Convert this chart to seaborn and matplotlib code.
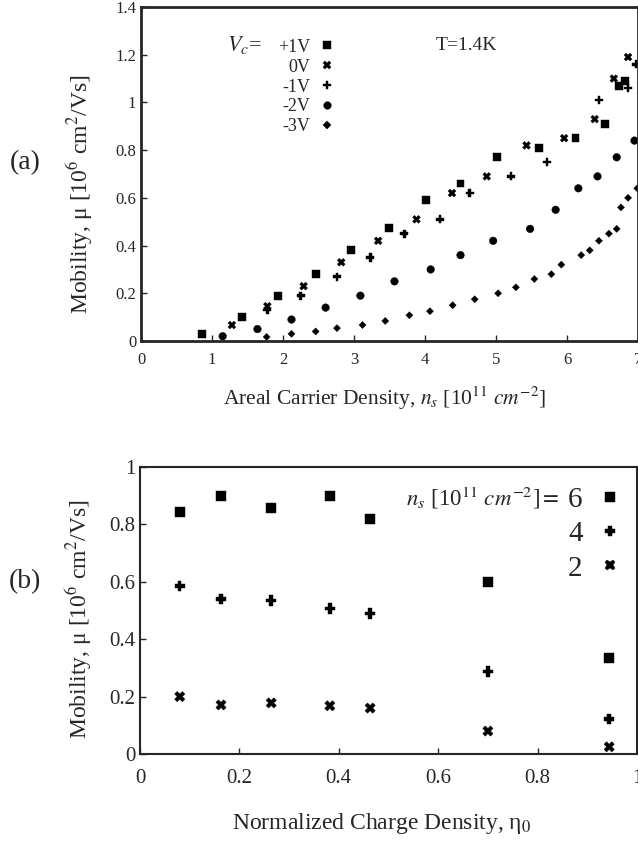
import numpy as np
import pandas as pd
import matplotlib
matplotlib.use("Agg")
import matplotlib.pyplot as plt
import seaborn as sns

# panel (a): mobility vs areal carrier density, T=1.4K
vc_labels = ['+1V', '0V', '-1V', '-2V', '-3V']
ns_p1 = [0.86, 1.42, 1.93, 2.46, 2.96, 3.49, 4.01, 4.50, 5.01, 5.61, 6.12, 6.54, 6.73, 6.82]
mu_p1 = [0.03, 0.10, 0.19, 0.28, 0.38, 0.475, 0.59, 0.66, 0.77, 0.81, 0.85, 0.91, 1.07, 1.09]
ns_0 = [1.28, 1.78, 2.29, 2.82, 3.34, 3.88, 4.38, 4.87, 5.43, 5.96, 6.39, 6.66, 6.86]
mu_0 = [0.067, 0.146, 0.23, 0.33, 0.42, 0.51, 0.62, 0.69, 0.82, 0.85, 0.93, 1.10, 1.19]
ns_m1 = [1.78, 2.25, 2.76, 3.23, 3.71, 4.21, 4.63, 5.21, 5.72, 6.45, 6.86, 6.97]
mu_m1 = [0.13, 0.19, 0.27, 0.35, 0.45, 0.51, 0.62, 0.69, 0.75, 1.01, 1.06, 1.16]
ns_m2 = [1.15, 1.64, 2.12, 2.60, 3.09, 3.57, 4.08, 4.50, 4.96, 5.48, 5.84, 6.16, 6.43, 6.70, 6.95]
mu_m2 = [0.02, 0.05, 0.09, 0.14, 0.19, 0.25, 0.30, 0.36, 0.42, 0.47, 0.55, 0.64, 0.69, 0.77, 0.84]
ns_m3 = [1.77, 2.12, 2.46, 2.76, 3.12, 3.44, 3.78, 4.07, 4.39, 4.70, 5.03, 5.28, 5.54, 5.78,
         5.92, 6.20, 6.32, 6.45, 6.59, 6.70, 6.76, 6.86, 6.99]
mu_m3 = [0.017, 0.03, 0.04, 0.054, 0.067, 0.084, 0.108, 0.125, 0.15, 0.175, 0.20, 0.225, 0.26, 0.28,
         0.32, 0.36, 0.38, 0.42, 0.45, 0.47, 0.56, 0.60, 0.64]

# panel (b): mobility vs normalized charge density
eta = [0.08, 0.163, 0.264, 0.382, 0.463, 0.70, 0.944]
mu_ns6 = [0.843, 0.90, 0.857, 0.90, 0.82, 0.60, 0.335]
mu_ns4 = [0.585, 0.54, 0.535, 0.507, 0.49, 0.287, 0.122]
mu_ns2 = [0.20, 0.171, 0.178, 0.168, 0.16, 0.08, 0.025]
ns_labels = ['6', '4', '2']

#%% tidy frames
dfa = pd.concat([
    pd.DataFrame({'ns': x, 'mu': y, 'Vc': lab})
    for x, y, lab in zip([ns_p1, ns_0, ns_m1, ns_m2, ns_m3],
                         [mu_p1, mu_0, mu_m1, mu_m2, mu_m3], vc_labels)
], ignore_index=True)

dfb = pd.concat([
    pd.DataFrame({'eta': eta, 'mu': y, 'ns': lab})
    for y, lab in zip([mu_ns6, mu_ns4, mu_ns2], ns_labels)
], ignore_index=True)

#%% style
sns.set_style('ticks')
plt.rcParams['font.family'] = ['Liberation Serif', 'DejaVu Serif']
plt.rcParams['mathtext.fontset'] = 'stix'
plt.rcParams['xtick.direction'] = 'in'
plt.rcParams['ytick.direction'] = 'in'

fig = plt.figure(figsize=(6.38, 8.41), dpi=100)
ax1 = fig.add_axes([141/638, 1 - 341/841, 497/638, 334/841])
ax2 = fig.add_axes([140/638, 1 - 754/841, 497/638, 287/841])

ylab = r'Mobility, μ [10$^6$ cm$^2$/Vs]'

#%% panel a
marks_a = {'+1V': 's', '0V': 'X', '-1V': 'P', '-2V': 'o', '-3V': 'D'}
sizes_a = {'+1V': 32, '0V': 32, '-1V': 34, '-2V': 30, '-3V': 13}
sns.scatterplot(data=dfa, x='ns', y='mu', style='Vc', style_order=vc_labels,
                size='Vc', sizes=sizes_a, size_order=vc_labels,
                markers=marks_a, color='k', edgecolor='k', linewidth=0.3, ax=ax1)
ax1.set_xlim(0, 7)
ax1.set_ylim(0, 1.4)
ax1.set_xticks(range(8))
ax1.set_yticks(np.arange(0, 1.41, 0.2))
ax1.set_yticklabels(['0', '0.2', '0.4', '0.6', '0.8', '1', '1.2', '1.4'])
ax1.tick_params(labelsize=12, length=4, width=1)
ax1.tick_params(axis='x', pad=8)
for sp in ax1.spines.values():
    sp.set_linewidth(2)
ax1.set_xlabel(r'Areal Carrier Density, $n_s$ [10$^{11}$ $cm^{-2}$]', fontsize=15.5)
ax1.set_ylabel(ylab, fontsize=17)
ax1.xaxis.set_label_coords(0.49, -0.13)
ax1.yaxis.set_label_coords(-0.093, 0.44)
sns.move_legend(ax1, 'upper right', bbox_to_anchor=(0.388, 0.905), title=None,
                markerfirst=False, frameon=False, fontsize=13,
                labelspacing=0.16, handletextpad=0.5, handlelength=0.8,
                borderpad=0, borderaxespad=0)
ax1.text(0.173, 0.886, r'$V_c$=', transform=ax1.transAxes, fontsize=16, va='center')
ax1.text(0.592, 0.886, 'T=1.4K', transform=ax1.transAxes, fontsize=14, va='center')

#%% panel b
marks_b = {'6': 's', '4': 'P', '2': 'X'}
sns.scatterplot(data=dfb, x='eta', y='mu', style='ns', style_order=ns_labels,
                markers=marks_b, color='k', edgecolor='k', linewidth=0.3,
                s=55, ax=ax2)
ax2.set_xlim(0, 1)
ax2.set_ylim(0, 1)
ax2.set_xticks(np.arange(0, 1.01, 0.2))
ax2.set_xticklabels(['0', '0.2', '0.4', '0.6', '0.8', '1'])
ax2.set_yticks(np.arange(0, 1.01, 0.2))
ax2.set_yticklabels(['0', '0.2', '0.4', '0.6', '0.8', '1'])
ax2.tick_params(labelsize=15, length=4, width=1)
ax2.tick_params(axis='x', pad=11)
for sp in ax2.spines.values():
    sp.set_linewidth(1.5)
ax2.set_xlabel(r'Normalized Charge Density, η$_0$', fontsize=17)
ax2.set_ylabel(ylab, fontsize=17)
ax2.xaxis.set_label_coords(0.487, -0.2)
ax2.yaxis.set_label_coords(-0.093, 0.47)
sns.move_legend(ax2, 'upper right', bbox_to_anchor=(0.97, 0.932), title=None,
                markerfirst=False, frameon=False, fontsize=21,
                labelspacing=0.27, handletextpad=0.55, handlelength=0.8,
                borderpad=0, borderaxespad=0)
ax2.text(0.845, 0.892, r'$n_s$ [10$^{11}$ $cm^{-2}$]$=$', transform=ax2.transAxes,
         fontsize=16.5, va='center', ha='right')

fig.text(25/638, 1 - 163/841, '(a)', fontsize=20, va='center', ha='center')
fig.text(25/638, 1 - 582/841, '(b)', fontsize=20, va='center', ha='center')

plt.savefig('out.png', dpi=100)
